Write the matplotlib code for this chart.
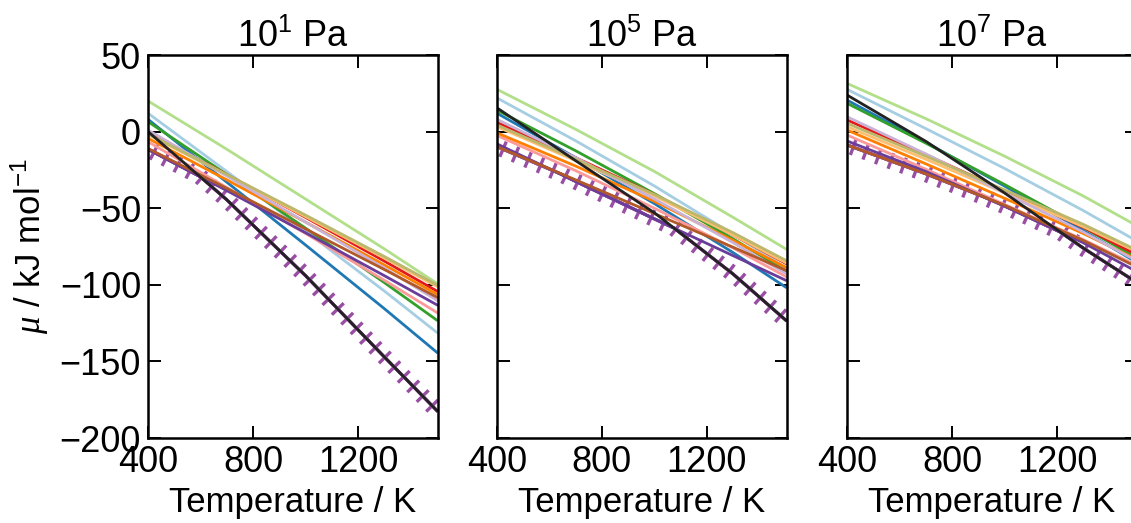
import numpy as np
import matplotlib
matplotlib.use("Agg")
from matplotlib import pyplot as plt
from matplotlib import patheffects as pe

plt.rcParams['font.family'] = ['Liberation Sans', 'DejaVu Sans']
plt.rcParams['mathtext.fontset'] = 'custom'
plt.rcParams['mathtext.rm'] = 'Liberation Sans'
plt.rcParams['mathtext.it'] = 'Liberation Serif:italic'
plt.rcParams['mathtext.default'] = 'rm'

#--- Temperatures where the curves were read (K)
T = [400, 700, 1000, 1300, 1500]

#--- Line colours, one per phase
colors = ['#b2df8a', '#a6cee3', '#1f78b4', '#33a02c', '#e31a1c', '#fb9a99',
          '#ff7f00', '#fdbf6f', '#cab2d6', '#6a3d9a', '#b15928', '#bdb76b', '#222222']

# ---------------------- 10^1 Pa ----------------------
mu_p1 = [
    [20, -11.5, -44, -76.5, -99],
    [12, -26, -65, -104, -131],
    [8, -33, -74, -115.5, -144],
    [6.5, -28, -63, -98.5, -123],
    [-0.7, -28, -56, -84.5, -104],
    [-6.6, -36.5, -66.5, -97, -118],
    [-4.4, -31.5, -59, -87, -106],
    [-2, -28.5, -55.5, -82.5, -101],
    [1, -29, -59, -89, -110],
    [-11.5, -38.5, -66, -94, -113],
    [-11, -37, -63.5, -90, -108],
    [-1.5, -28, -54.5, -81.5, -100],
    [0, -44.5, -94, -147, -182],
]
T_low_p1 = [400, 598, 700, 1000, 1300, 1500]
mu_low_p1 = [-11.5, -29.3, -44.5, -94, -147, -182]

# ---------------------- 10^5 Pa ----------------------
mu_p2 = [
    [27.6, 1.5, -26, -56, -76.5],
    [22, -6, -35.5, -67, -89],
    [12, -17, -47, -79, -101.5],
    [14, -12.5, -40.5, -70, -91],
    [6, -17, -41, -67.5, -86],
    [-2.5, -25.5, -50, -76, -94.5],
    [-0.8, -22.5, -45.5, -71, -88.5],
    [3.2, -19, -42, -67.5, -85.5],
    [8, -17, -44, -72.5, -92.5],
    [-8, -32.5, -57, -81, -97],
    [-9.8, -31.5, -53.5, -75.5, -90.5],
    [4.3, -18, -41, -66, -84],
    [15.5, -19, -53, -93, -123],
]
T_low_p2 = [400, 640, 700, 1000, 1075, 1300, 1500]
mu_low_p2 = [-9.8, -27.4, -32.5, -57, -63, -93, -123]

# ---------------------- 10^7 Pa ----------------------
mu_p3 = [
    [31.5, 8.5, -16, -42, -61],
    [27.6, 2, -24, -51.5, -71],
    [20.6, -7, -35.5, -64.5, -85],
    [18.5, -7.5, -34.5, -62.5, -82],
    [7.6, -15, -38.5, -62.5, -80],
    [-2.2, -24.5, -47.5, -70.5, -87],
    [1, -21, -43.5, -66.5, -83],
    [3.2, -18, -40, -62, -78],
    [9.7, -14.5, -40, -65.5, -84],
    [-6.1, -26, -48.5, -72.5, -91],
    [-8.7, -27.5, -48, -71, -88],
    [5.4, -16, -38, -60.5, -77],
    [23.9, -6.3, -40, -76, -98],
]
T_low_p3 = [400, 700, 925, 1000, 1212, 1300, 1500]
mu_low_p3 = [-8.7, -27.5, -42.9, -48.5, -65.5, -76, -98]

panels = [
    (r'$10^1$ Pa', mu_p1, T_low_p1, mu_low_p1),
    (r'$10^5$ Pa', mu_p2, T_low_p2, mu_low_p2),
    (r'$10^7$ Pa', mu_p3, T_low_p3, mu_low_p3),
]

# ------------------------ PLOT ----------------------
fig = plt.figure(figsize=(11.31, 5.23), dpi=100)
lefts = [0.1309, 0.4394, 0.7489]

tick_fx = [
    pe.withTickedStroke(angle=90, spacing=9.5, length=0.5, linewidth=2.4, foreground='#984ea3'),
    pe.withTickedStroke(angle=-90, spacing=9.5, length=0.5, linewidth=2.4, foreground='#984ea3'),
    pe.Normal(),
]

for i, (title, mu, T_low, mu_low) in enumerate(panels):
    ax = fig.add_axes([lefts[i], 0.1625, 0.2564, 0.7323])

    #--- lowest (stable) curve with ticks
    ax.plot(T_low, mu_low, color='#984ea3', lw=2.2, path_effects=tick_fx, zorder=1)

    #--- every phase
    for k in range(len(mu)):
        ax.plot(T, mu[k], color=colors[k], lw=2.0, zorder=2)

    ax.set_xlim(400, 1505)
    ax.set_ylim(-200, 50)
    ax.set_xticks([400, 800, 1200])
    ax.set_yticks([-200, -150, -100, -50, 0, 50])
    ax.tick_params(direction='in', length=9, width=1.4, top=True, right=True,
                   labelsize=26, pad=5)
    for sp in ax.spines.values():
        sp.set_linewidth(1.8)
    ax.set_title(title, fontsize=26, pad=6)
    ax.set_xlabel("Temperature / K", fontsize=25, labelpad=4)
    if i == 0:
        ax.set_ylabel(r'$\mathit{\mu}$ / kJ mol$^{-1}$', fontsize=25, labelpad=6)
    else:
        ax.set_yticklabels([])

plt.savefig("out.png", dpi=100)
